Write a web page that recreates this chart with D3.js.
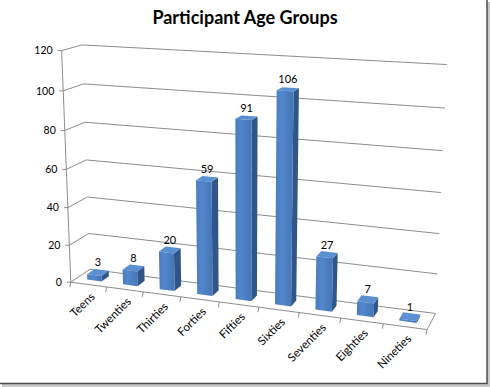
<!DOCTYPE html>
<html>
<head>
<meta charset="utf-8">
<script src="https://cdn.jsdelivr.net/npm/d3@7"></script>
<style>
body { margin: 0; background: #fff; }
text { font-family: Lato, "Open Sans", sans-serif; fill: #000; }
</style>
</head>
<body>
<script>
var categories = ['Teens', 'Twenties', 'Thirties', 'Forties', 'Fifties', 'Sixties', 'Seventies', 'Eighties', 'Nineties'];
var counts = [3, 8, 20, 59, 91, 106, 27, 7, 1];
var yTicks = [0, 20, 40, 60, 80, 100, 120];

var w = 490, h = 387;

// where the corners of the plot box land on the page
// [u along categories 0..1, v along values 0..1, depth 0 front .. 1 back] -> [px, py]
var anchors = [
  [[0, 0, 0], [72, 281]], [[0, 1, 0], [62, 51]],
  [[0, 0, 1], [89, 270]], [[0, 1, 1], [82, 45]],
  [[1, 0, 0], [428, 328]], [[1, 0, 1], [435, 313]], [[1, 1, 1], [447, 65]],
  [[0, 1/6, 0], [70, 243]], [[0, 0.5, 0], [65, 168]], [[0, 5/6, 0], [63, 91]],
  [[0, 1/6, 1], [89, 233]], [[0, 0.5, 1], [87, 160]], [[0, 5/6, 1], [83, 84]],
  [[1, 1/6, 1], [438, 273]], [[1, 0.5, 1], [441, 193]], [[1, 5/6, 1], [445, 108]],
  [[1/9, 0, 0], [107, 288]], [[2/9, 0, 0], [143, 293]], [[3/9, 0, 0], [182, 298]],
  [[4/9, 0, 0], [219, 303]], [[5/9, 0, 0], [258, 308]], [[6/9, 0, 0], [298, 313]],
  [[7/9, 0, 0], [341, 319]], [[8/9, 0, 0], [383, 323]]
];

// least squares fit of a perspective camera (3x4 matrix, last entry 1)
function fitCamera(pts) {
  var A = [], b = [];
  pts.forEach(function (p) {
    var X = p[0][0], Y = p[0][1], Z = p[0][2], px = p[1][0], py = p[1][1];
    A.push([X, Y, Z, 1, 0, 0, 0, 0, -px * X, -px * Y, -px * Z]); b.push(px);
    A.push([0, 0, 0, 0, X, Y, Z, 1, -py * X, -py * Y, -py * Z]); b.push(py);
  });
  var n = 11, M = [];
  for (var i = 0; i < n; i++) {
    M.push([]);
    for (var j = 0; j <= n; j++) {
      var s = 0;
      for (var k = 0; k < A.length; k++) s += A[k][i] * (j < n ? A[k][j] : b[k]);
      M[i].push(s);
    }
  }
  for (var c = 0; c < n; c++) {
    var piv = c;
    for (var r = c + 1; r < n; r++) if (Math.abs(M[r][c]) > Math.abs(M[piv][c])) piv = r;
    var t = M[c]; M[c] = M[piv]; M[piv] = t;
    for (var r2 = 0; r2 < n; r2++) {
      if (r2 === c) continue;
      var f = M[r2][c] / M[c][c];
      for (var j2 = c; j2 <= n; j2++) M[r2][j2] -= f * M[c][j2];
    }
  }
  var p = M.map(function (row, i) { return row[n] / row[i]; });
  return function (X, Y, Z) {
    var d = p[8] * X + p[9] * Y + p[10] * Z + 1;
    return [(p[0] * X + p[1] * Y + p[2] * Z + p[3]) / d, (p[4] * X + p[5] * Y + p[6] * Z + p[7]) / d];
  };
}

var proj = fitCamera(anchors);

var xScale = d3.scaleBand()
    .domain(categories)
    .range([0, 1])
    .paddingInner(0.6)
    .paddingOuter(0.3);

var yScale = d3.scaleLinear()
    .domain([0, 120])
    .range([0, 1]);

var z0 = 0.3, z1 = 0.7;

var line = d3.line();
function path3(pts, closed) {
  return line(pts.map(function (q) { return proj(q[0], q[1], q[2]); })) + (closed ? 'Z' : '');
}

var svg = d3.select('body').append('svg')
    .attr('width', w)
    .attr('height', h);

var defs = svg.append('defs');
var grad = defs.append('linearGradient').attr('id', 'front').attr('x1', 0).attr('x2', 1).attr('y1', 0).attr('y2', 0);
grad.append('stop').attr('offset', '0%').attr('stop-color', '#4a7cc0');
grad.append('stop').attr('offset', '35%').attr('stop-color', '#5287cb');
grad.append('stop').attr('offset', '100%').attr('stop-color', '#4474b5');

// frame with shadow on right / bottom
svg.append('rect').attr('x', 487).attr('y', 2).attr('width', 3).attr('height', 385).attr('fill', '#c8c8c8');
svg.append('rect').attr('x', 2).attr('y', 383).attr('width', 488).attr('height', 4).attr('fill', '#c8c8c8');
svg.append('line').attr('x1', 487).attr('x2', 487).attr('y1', 0).attr('y2', 384)
  .attr('stroke', '#4d4d4d').attr('stroke-width', 1.5);
svg.append('line').attr('x1', 0).attr('x2', 487.5).attr('y1', 383.5).attr('y2', 383.5)
  .attr('stroke', '#4d4d4d').attr('stroke-width', 1.5);

svg.append('text')
    .attr('x', 245)
    .attr('y', 24)
    .attr('text-anchor', 'middle')
    .attr('font-size', '18px')
    .attr('font-weight', 'bold')
    .text('Participant Age Groups');

var grid = svg.append('g')
    .attr('fill', 'none')
    .attr('stroke', '#8c8c8c')
    .attr('stroke-width', 1);

// side + back wall gridlines
grid.selectAll('path.gl')
  .data(yTicks)
  .enter()
  .append('path')
  .attr('class', 'gl')
  .attr('d', function (t) {
    var v = yScale(t);
    return path3([[0, v, 0], [0, v, 1], [1, v, 1]]);
  });

// floor
grid.append('path').attr('d', path3([[0, 0, 0], [1, 0, 0], [1, 0, 1]]));
// value axis
grid.append('path').attr('d', path3([[0, 0, 0], [0, 1, 0]]));

grid.selectAll('line.yt')
  .data(yTicks)
  .enter()
  .append('line')
  .attr('class', 'yt')
  .attr('x1', function (t) { return proj(0, yScale(t), 0)[0] - 4; })
  .attr('x2', function (t) { return proj(0, yScale(t), 0)[0]; })
  .attr('y1', function (t) { return proj(0, yScale(t), 0)[1]; })
  .attr('y2', function (t) { return proj(0, yScale(t), 0)[1]; });

svg.selectAll('text.yl')
  .data(yTicks)
  .enter()
  .append('text')
  .attr('class', 'yl')
  .attr('x', function (t) { return proj(0, yScale(t), 0)[0] - 9; })
  .attr('y', function (t) { return proj(0, yScale(t), 0)[1]; })
  .attr('dy', '0.35em')
  .attr('text-anchor', 'end')
  .attr('font-size', '10.5px')
  .attr('fill', '#222')
  .text(function (t) { return t; });

// category ticks on the front edge
var bounds = categories.map(function (c) { return xScale(c) - xScale.step() * 0.3; }).concat([1]);
grid.selectAll('line.xt')
  .data(bounds)
  .enter()
  .append('line')
  .attr('class', 'xt')
  .attr('x1', function (u) { return proj(u, 0, 0)[0]; })
  .attr('x2', function (u) { return proj(u, 0, 0)[0] - 1; })
  .attr('y1', function (u) { return proj(u, 0, 0)[1]; })
  .attr('y2', function (u) { return proj(u, 0, 0)[1] + 5; });

svg.selectAll('text.xl')
  .data(categories)
  .enter()
  .append('text')
  .attr('class', 'xl')
  .attr('transform', function (c) {
    var q = proj(xScale(c) + xScale.bandwidth() / 2, 0, 0);
    return 'translate(' + (q[0] + 4) + ',' + (q[1] + 10) + ') rotate(-45)';
  })
  .attr('text-anchor', 'end')
  .attr('dy', '0.35em')
  .attr('font-size', '11.5px')
  .attr('fill', '#222')
  .text(function (c) { return c; });

var bars = svg.selectAll('g.bar')
  .data(counts)
  .enter()
  .append('g')
  .attr('class', 'bar');

function ends(d, i) {
  var u0 = xScale(categories[i]);
  return { u0: u0, u1: u0 + xScale.bandwidth(), v: yScale(d) };
}

bars.append('path')
  .attr('d', function (d, i) {
    var e = ends(d, i);
    return path3([[e.u1, 0, z0], [e.u1, 0, z1], [e.u1, e.v, z1], [e.u1, e.v, z0]], true);
  })
  .attr('fill', '#2f5689');

bars.append('path')
  .attr('d', function (d, i) {
    var e = ends(d, i);
    return path3([[e.u0, e.v, z0], [e.u1, e.v, z0], [e.u1, e.v, z1], [e.u0, e.v, z1]], true);
  })
  .attr('fill', '#5a8fd2');

bars.append('path')
  .attr('d', function (d, i) {
    var e = ends(d, i);
    return path3([[e.u0, 0, z0], [e.u1, 0, z0], [e.u1, e.v, z0], [e.u0, e.v, z0]], true);
  })
  .attr('fill', 'url(#front)');

svg.selectAll('text.dl')
  .data(counts)
  .enter()
  .append('text')
  .attr('class', 'dl')
  .attr('x', function (d, i) {
    var e = ends(d, i);
    return proj((e.u0 + e.u1) / 2, e.v, 0.5)[0];
  })
  .attr('y', function (d, i) {
    var e = ends(d, i);
    return proj((e.u0 + e.u1) / 2, e.v, 0.5)[1] - 6;
  })
  .attr('text-anchor', 'middle')
  .attr('font-size', '11px')
  .attr('fill', '#222')
  .text(function (d) { return d; });
</script>
</body>
</html>
